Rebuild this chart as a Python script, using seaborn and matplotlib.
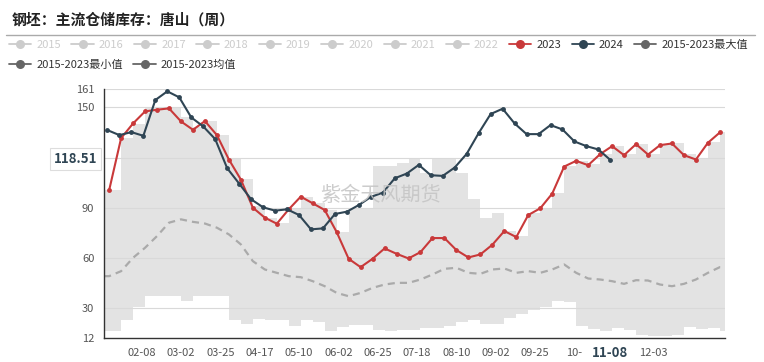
import matplotlib
matplotlib.use("Agg")
import matplotlib.pyplot as plt
from matplotlib.lines import Line2D
import pandas as pd
import seaborn as sns

# weekly stocks, 2023 weeks are laid on the 2024 calendar (month-day axis)
weeks_2023 = pd.date_range("2024-01-20", periods=52, freq="7D")
weeks_2024 = pd.date_range("2024-01-19", periods=43, freq="7D")

stock_2023 = [100.4, 131.6, 140.4, 147.6, 148.6, 149.4, 141.6, 136.6, 141.8, 133.4,
              118.8, 106.8, 90.0, 84.0, 80.4, 89.0, 96.6, 92.6, 88.6, 75.4,
              59.4, 54.4, 59.4, 65.6, 62.4, 59.6, 63.4, 71.8, 71.8, 64.6,
              60.2, 62.0, 67.8, 76.0, 72.4, 85.6, 89.6, 98.4, 114.6, 118.0,
              115.4, 122.0, 126.8, 121.4, 128.0, 121.8, 127.4, 128.4, 121.4, 118.8,
              128.8, 135.0]
stock_2024 = [136.4, 133.4, 135.2, 133.0, 154.4, 159.6, 156.0, 144.0, 138.6, 131.0,
              113.6, 104.4, 95.0, 90.2, 88.2, 89.0, 85.6, 77.0, 77.6, 86.2,
              87.6, 91.6, 96.4, 99.0, 107.6, 110.4, 115.6, 109.4, 109.0, 114.0,
              122.2, 134.6, 146.0, 149.2, 140.4, 134.0, 134.0, 139.4, 136.8, 129.6,
              126.8, 124.8, 118.51]

# 2015-2023 band and average, one value per week
band_max = [100.4, 131.4, 140.0, 149.4, 149.4, 149.4, 144.0, 138.0, 141.8, 133.4,
            119.6, 107.0, 91.0, 84.0, 81.0, 90.0, 96.6, 93.0, 88.6, 75.4,
            89.0, 89.0, 115.0, 115.0, 117.0, 120.0, 111.0, 120.0, 120.0, 111.0,
            95.0, 84.0, 87.0, 76.0, 73.0, 87.0, 90.0, 99.0, 115.0, 118.0,
            116.0, 122.0, 127.0, 122.0, 128.0, 122.0, 128.0, 128.4, 122.0, 119.0,
            129.0, 135.0]
band_min = [16.4, 23.0, 30.6, 37.0, 37.0, 37.0, 34.0, 37.0, 37.0, 37.0,
            23.0, 20.4, 23.6, 22.6, 22.6, 19.4, 23.0, 21.4, 16.4, 18.6,
            20.0, 20.0, 17.0, 16.0, 16.6, 16.6, 17.8, 17.8, 19.0, 21.4,
            23.0, 20.2, 20.2, 24.2, 26.6, 28.6, 30.6, 34.4, 33.4, 19.0,
            17.4, 16.0, 18.0, 17.0, 14.0, 13.0, 13.0, 14.0, 18.6, 17.4,
            17.8, 16.0]
band_mean = [49.0, 52.0, 60.0, 66.0, 73.0, 81.0, 83.0, 81.5, 80.5, 78.0,
             74.0, 68.0, 58.0, 53.0, 51.0, 49.0, 48.4, 46.0, 43.0, 39.0,
             37.0, 39.0, 42.0, 44.0, 45.0, 45.0, 47.0, 50.0, 53.4, 54.0,
             51.0, 50.4, 53.0, 53.6, 51.0, 52.0, 51.0, 53.0, 56.0, 51.0,
             47.6, 47.0, 46.0, 44.4, 46.6, 46.4, 44.0, 43.0, 44.4, 47.0,
             51.0, 54.4]

x_start = pd.Timestamp("2024-01-17")
x_end = pd.Timestamp("2025-01-14")
tick_dates = pd.date_range("2024-02-08", periods=14, freq="23D")
tick_labels = ["02-08", "03-02", "03-25", "04-17", "05-10", "06-02", "06-25",
               "07-18", "08-10", "09-02", "09-25", "10-", "", "12-03"]
y_ticks = [12, 30, 60, 90, 120, 150, 161]
y_labels = ["12", "30", "60", "90", "", "150", "161"]

pointer_date = pd.Timestamp("2024-11-08")
pointer_value = 118.51

legend_years = ["2015", "2016", "2017", "2018", "2019", "2020", "2021", "2022"]

RED = "#c9393a"
NAVY = "#2f4554"
GREY = "#666666"

sns.set_theme(style="white")
plt.rcParams["font.family"] = ["Noto Sans CJK SC", "DejaVu Sans"]

fig = plt.figure(figsize=(7.64, 3.62), dpi=100)
ax = fig.add_axes([104 / 764, 1 - 338 / 362, (725 - 104) / 764, (338 - 89) / 362])

# min-max band (step shape), extended to axis edges
bx = [x_start] + list(weeks_2023) + [x_end]
bmax = [band_max[0]] + band_max + [band_max[-1]]
bmin = [band_min[0]] + band_min + [band_min[-1]]
ax.fill_between(bx, bmin, bmax, step="post", color="#e3e3e3", lw=0, zorder=1)

for yv in [30, 60, 90, 120, 150, 161]:
    ax.axhline(yv, color="#d9d9d9", lw=0.8, zorder=1.2)

bmean = [band_mean[0]] + band_mean + [band_mean[-1]]
sns.lineplot(x=bx, y=bmean, color="#aaaaaa", lw=1.6, linestyle=(0, (3.2, 2.3)),
             ax=ax, zorder=2)

sns.lineplot(x=weeks_2023, y=stock_2023, color=RED, lw=1.5, marker="o",
             markersize=3.5, markeredgewidth=0, ax=ax, zorder=3)
sns.lineplot(x=weeks_2024, y=stock_2024, color=NAVY, lw=1.5, marker="o",
             markersize=3.5, markeredgewidth=0, ax=ax, zorder=4)

ax.set_xlim(x_start, x_end)
ax.set_ylim(12, 161)
ax.set_xticks(tick_dates)
ax.set_xticklabels(tick_labels)
ax.set_yticks(y_ticks)
ax.set_yticklabels(y_labels)
ax.tick_params(axis="both", labelsize=8, colors="#333333", labelcolor="#555555",
               length=4, width=0.8, direction="out", pad=3)
ax.grid(False)
ax.set_xlabel("")
ax.set_ylabel("")
for side in ["top", "right"]:
    ax.spines[side].set_visible(False)
for side in ["left", "bottom"]:
    ax.spines[side].set_color("#333333")
    ax.spines[side].set_linewidth(1.0)

# axis pointer labels
ax.annotate(f"{pointer_value:.2f}", xy=(0, pointer_value),
            xycoords=("axes fraction", "data"), xytext=(-5, 1),
            textcoords="offset points", ha="right", va="center",
            fontsize=9.5, fontweight="bold", color=NAVY,
            bbox=dict(boxstyle="square,pad=0.3", fc="white", ec="#dddddd", lw=0.8),
            zorder=6, annotation_clip=False)
ax.annotate(pointer_date.strftime("%m-%d"), xy=(pointer_date, 0),
            xycoords=("data", "axes fraction"), xytext=(0, -5.5),
            textcoords="offset points", ha="center", va="top",
            fontsize=9.5, fontweight="bold", color=NAVY, annotation_clip=False)

# watermark
fig.text(381 / 764, 1 - 196 / 362, "紫金天风期货", fontsize=14.5, color="#c4c4c4",
         alpha=0.85, ha="center", va="center", zorder=10)

# title and rule
fig.text(12 / 764, 1 - 20 / 362, "钢坯：主流仓储库存：唐山（周）", fontsize=10.7,
         fontweight="bold", color="#222222", ha="left", va="center")
fig.add_artist(Line2D([6 / 764, 755 / 764], [1 - 34.5 / 362, 1 - 34.5 / 362],
                      color="#aaaaaa", lw=1.0))

# legends
def handle(c):
    return Line2D([], [], color=c, lw=1.3, marker="o", markersize=6.5,
                  markeredgewidth=0)

legend_kw = dict(loc="upper left", frameon=False, fontsize=8, handlelength=2.0,
                 handletextpad=0.45, columnspacing=0.95, borderpad=0,
                 borderaxespad=0)

row1_labels = legend_years + ["2023", "2024", "2015-2023最大值"]
row1_handles = [handle("#cccccc") for _ in legend_years] + [handle(RED), handle(NAVY), handle(GREY)]
row1_colors = ["#cccccc"] * len(legend_years) + ["#333333"] * 3
leg1 = fig.legend(row1_handles, row1_labels, bbox_to_anchor=(9 / 764, 1 - 39.5 / 362),
                  ncol=len(row1_labels), **legend_kw)
for t, c in zip(leg1.get_texts(), row1_colors):
    t.set_color(c)

row2_labels = ["2015-2023最小值", "2015-2023均值"]
leg2 = fig.legend([handle(GREY), handle(GREY)], row2_labels,
                  bbox_to_anchor=(9 / 764, 1 - 59.5 / 362), ncol=2, **legend_kw)
for t in leg2.get_texts():
    t.set_color("#333333")

fig.savefig("out.png", dpi=100)
